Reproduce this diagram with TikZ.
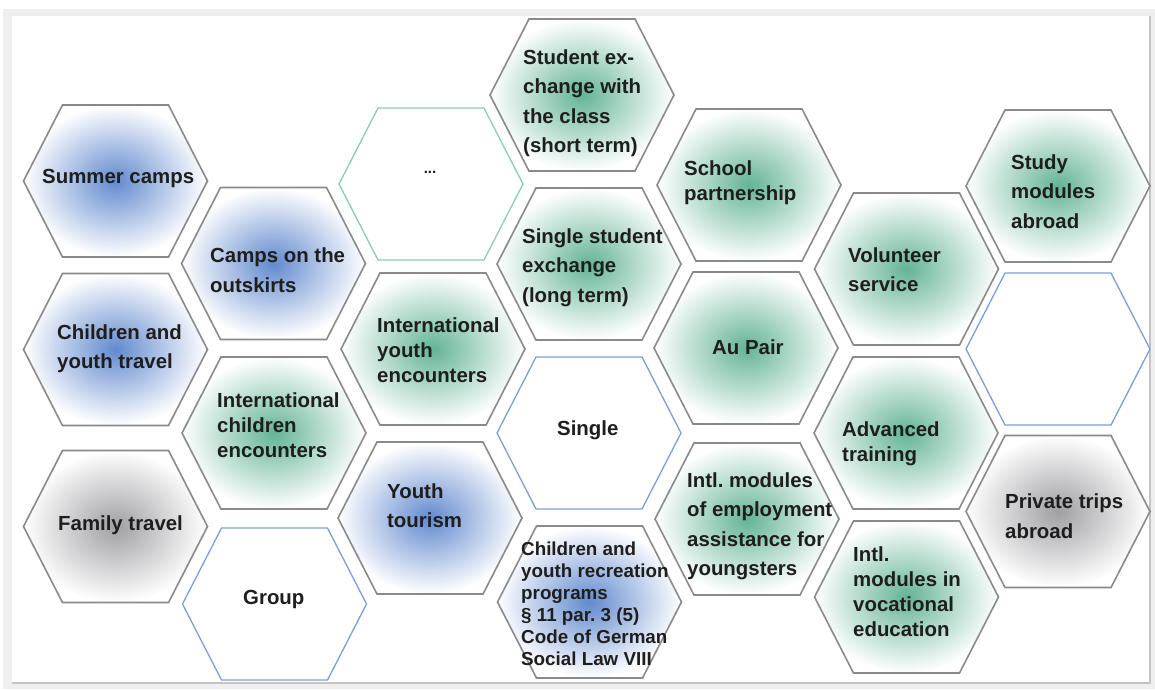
\documentclass[tikz,border=0pt]{standalone}
\usepackage{fontspec}
\setmainfont{Liberation Sans}
\definecolor{edgegray}{RGB}{138,138,138}
\definecolor{edgeblue}{RGB}{124,160,214}
\definecolor{edgeteal}{RGB}{140,205,185}
\definecolor{cellblue}{RGB}{98,138,206}
\definecolor{cellgreen}{RGB}{100,180,150}
\definecolor{cellgray}{RGB}{160,160,164}
\definecolor{framegray}{RGB}{239,239,239}
\definecolor{frameline}{RGB}{196,196,196}
\definecolor{labeldark}{RGB}{30,30,30}

\begin{document}
\frenchspacing
\begin{tikzpicture}[
  x=1pt, y=-1pt,
  % hexagon around the current point (flat top, pointed sides)
  hexcell/.style = {insert path={++(-92,0) -- ++(39,-76) -- ++(106,0)
                    -- ++(39,76) -- ++(-39,76) -- ++(-106,0) -- cycle}},
  % cell fills
  hb/.style  = {draw=edgegray, line width=1.6pt, shading=radial,
                inner color=cellblue, outer color=white},
  hg/.style  = {draw=edgegray, line width=1.6pt, shading=radial,
                inner color=cellgreen, outer color=white},
  hk/.style  = {draw=edgegray, line width=1.6pt, shading=radial,
                inner color=cellgray, outer color=white},
  hw/.style  = {draw=edgeblue, line width=1.3pt, fill=white},
  ht/.style  = {draw=edgeteal, line width=1.3pt, fill=white},
  % labels
  lbl/.style = {font=\fontsize{20.4}{29.5}\selectfont\bfseries, text=labeldark,
                align=left, anchor=west, inner sep=0pt},
  lbln/.style= {lbl, font=\fontsize{20.4}{25}\selectfont\bfseries},
  lbls/.style= {lbl, font=\fontsize{18.8}{22}\selectfont\bfseries}
]
\useasboundingbox (0,0) rectangle (1155,689);

% Frame
\fill[framegray] (3,9) rectangle (1155,689);
\fill[white] (12,16) rectangle (1150,683);
\draw[frameline, line width=1.2pt] (12,683) -- (1150,683) -- (1150,16);

% Column 1
\path[hb] (115.5,181)   [hexcell];
\path[hb] (115.5,349.5) [hexcell];
\path[hk] (115.5,526.5) [hexcell];
% Column 2
\path[hb] (273.5,263.5) [hexcell];
\path[hg] (274,433)     [hexcell];
\path[hw] (274.5,604)   [hexcell];
% Column 3
\path[ht] (431,184)     [hexcell];
\path[hg] (433,349)     [hexcell];
\path[hb] (430,518)     [hexcell];
% Column 4
\path[hg] (582,95)      [hexcell];
\path[hg] (589,264)     [hexcell];
\path[hw] (589,433)     [hexcell];
\path[hb] (589.5,602)   [hexcell];
% Column 5
\path[hg] (749,185)     [hexcell];
\path[hg] (746,348)     [hexcell];
\path[hg] (747,519)     [hexcell];
% Column 6
\path[hg] (906.5,269)   [hexcell];
\path[hg] (906,433)     [hexcell];
\path[hg] (906.5,597)   [hexcell];
% Column 7
\path[hg] (1058,186)    [hexcell];
\path[hw] (1058,349)    [hexcell];
\path[hk] (1058,511.5)  [hexcell];

% Labels
\node[lbl]  (summer)    at (42,178)    {Summer camps};
\node[lbl]  (chtravel)  at (57,348.5)  {Children and\\youth travel};
\node[lbl]  (family)    at (58,525)    {Family travel};
\node[lbl]  (outskirts) at (210,270)   {Camps on the\\outskirts};
\node[lbln] (intchild)  at (217,425.5) {International\\children\\encounters};
\node[lbl]  (group)     at (243,599)   {Group};
\node[lbl, font=\fontsize{15}{18}\selectfont\bfseries, anchor=center]
            (more)      at (430,172)   {...};
\node[lbln] (intyouth)  at (377,350)   {International\\youth\\encounters};
\node[lbl]  (tourism)   at (387,505.5) {Youth\\tourism};
\node[lbl]  (classex)   at (523,103)   {Student ex-\\change with\\the class\\(short term)};
\node[lbl]  (longterm)  at (522,267.5) {Single student\\exchange\\(long term)};
\node[lbl]  (single)    at (557,430)   {Single};
\node[lbls] (recreation) at (521,604)  {Children and\\youth recreation\\programs\\\S~11 par. 3 (5)\\Code of German\\Social Law VIII};
\node[lbln] (school)    at (684,183)   {School\\partnership};
\node[lbl]  (aupair)    at (712,347.5) {Au Pair};
\node[lbl]  (employ)    at (687,526.5) {Intl. modules\\of employment\\assistance for\\youngsters};
\node[lbl]  (volunteer) at (848,269.5) {Volunteer\\service};
\node[lbln] (advanced)  at (842,444)   {Advanced\\training};
\node[lbln] (vocational) at (853,592)  {Intl.\\modules in\\vocational\\education};
\node[lbl]  (study)     at (1011,191.5) {Study\\modules\\abroad};
\node[lbl]  (private)   at (1005,516)  {Private trips\\abroad};

\end{tikzpicture}
\end{document}
